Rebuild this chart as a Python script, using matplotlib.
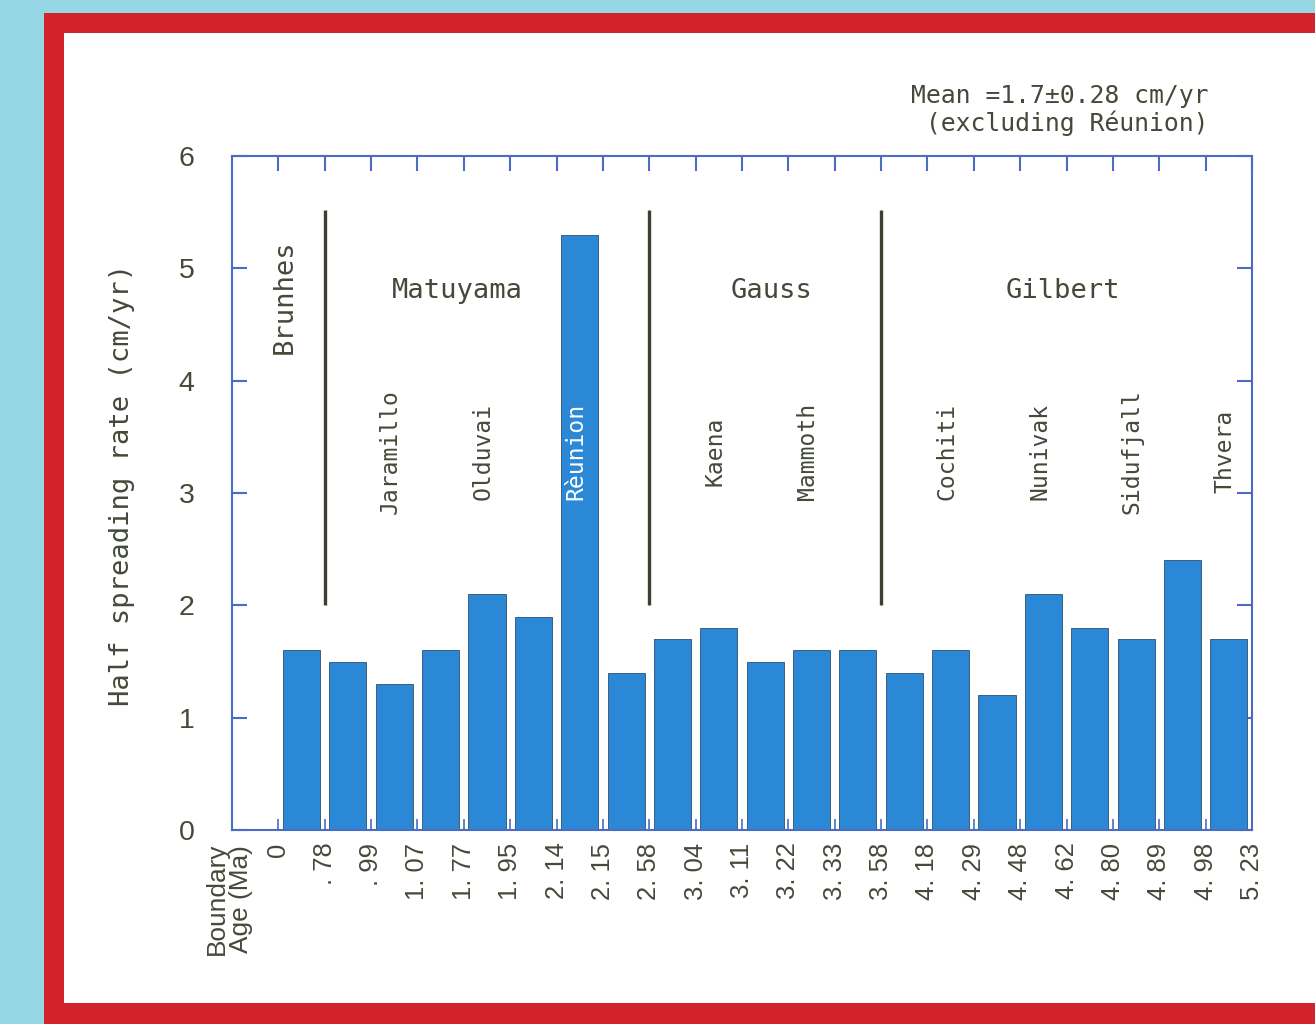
import matplotlib
matplotlib.use("Agg")
import matplotlib.pyplot as plt
import numpy as np
from matplotlib.patches import Rectangle
from matplotlib import font_manager

# boundary ages (Ma) between successive polarity intervals
boundary_ages = ['0', '. 78', '. 99', '1. 07', '1. 77', '1. 95', '2. 14', '2. 15', '2. 58',
                 '3. 04', '3. 11', '3. 22', '3. 33', '3. 58', '4. 18', '4. 29', '4. 48',
                 '4. 62', '4. 80', '4. 89', '4. 98', '5. 23']
# half spreading rate for each interval (cm/yr)
rates = [1.6, 1.5, 1.3, 1.6, 2.1, 1.9, 5.3, 1.4, 1.7, 1.8, 1.5,
         1.6, 1.6, 1.4, 1.6, 1.2, 2.1, 1.8, 1.7, 2.4, 1.7]

# chrons: name and centre (in interval units)
chrons = ['Matuyama', 'Gauss', 'Gilbert']
chron_x = [3.87, 10.63, 16.93]
chron_breaks = [1, 8, 13]

# subchrons: name and interval index
subchrons = ['Jaramillo', 'Olduvai', 'Rèunion', 'Kaena', 'Mammoth',
             'Cochiti', 'Nunivak', 'Sidufjall', 'Thvera']
subchron_idx = [2, 4, 6, 9, 11, 14, 16, 18, 20]

names = {f.name for f in font_manager.fontManager.ttflist}
if 'Liberation Sans Narrow' in names:
    num_font = 'Liberation Sans Narrow'
    k = 1.0
else:
    num_font = 'Liberation Sans'
    k = 0.82
mono = 'DejaVu Sans Mono'
txt = '#434a39'
blue = '#4a6cc2'
barcol = '#2a88d6'

fig = plt.figure(figsize=(13.15, 10.24), dpi=100)
fig.patch.set_facecolor('#96d7e5')
fig.add_artist(Rectangle((44/1315, -0.1), 1.2, 0.1 + 1011/1024, transform=fig.transFigure,
                         facecolor='#d2232a', edgecolor='none', zorder=-3))
fig.add_artist(Rectangle((64/1315, 21/1024), 1.2, 970/1024, transform=fig.transFigure,
                         facecolor='white', edgecolor='none', zorder=-2))

ax = fig.add_axes([232/1315, 194/1024, 1020/1315, 674/1024])
n = len(rates)
x = np.arange(n) + 0.5
ax.bar(x, rates, width=0.8, color=barcol, edgecolor='#3d5f80', linewidth=0.7, zorder=2)
ax.set_xlim(-1, n)
ax.set_ylim(0, 6)

for s in ax.spines.values():
    s.set_color(blue)
    s.set_linewidth(1.5)

ax.set_yticks(range(7))
ax.set_yticklabels([str(v) for v in range(7)], fontsize=25*k, family=num_font, color=txt)
ax.tick_params(axis='y', direction='in', length=11, width=1.5, color=blue, pad=27,
               right=True)
ax.set_xticks(np.arange(n + 1))
ax.set_xticklabels(boundary_ages, rotation=90, fontsize=22.5*k, family=num_font, color=txt)
ax.tick_params(axis='x', direction='in', length=8, width=1.2, color=blue, pad=9, top=True)
# longer ticks along the top edge
for t in ax.xaxis.get_major_ticks():
    t.tick2line.set_markersize(11)
    t.tick2line.set_markeredgewidth(1.5)

ax.set_ylabel('Half spreading rate (cm/yr)', fontsize=19.5, family=mono, color=txt)
ax.yaxis.set_label_coords(-0.095, 0.512)

fig.text(229/1315, (1024 - 955)/1024, 'Boundary\nAge (Ma)', rotation=90, ha='center', va='bottom',
         fontsize=23*k, family=num_font, color=txt, linespacing=1.05)

# chron boundaries
ax.vlines(chron_breaks, 2.0, 5.52, color='#3a4032', linewidth=2.4, zorder=3)
for name, cx in zip(chrons, chron_x):
    ax.text(cx, 4.8, name, ha='center', va='center', fontsize=19.5, family=mono, color=txt)
ax.text(0.14, 4.75, 'Brunhes', rotation=90, ha='center', va='center', fontsize=19.5,
        family=mono, color=txt)

for name, i in zip(subchrons, subchron_idx):
    c = 'white' if i == 6 else txt
    ax.text(i + 0.42, 3.37, name, rotation=90, ha='center', va='center', fontsize=16.6,
            family=mono, color=c, zorder=4)

ax.text(0.812, 1.068, 'Mean =1.7±0.28 cm/yr\n (excluding Réunion)', transform=ax.transAxes,
        ha='center', va='center', fontsize=17.8, family=mono, color=txt, linespacing=1.1)

fig.savefig('out.png', dpi=100, facecolor=fig.get_facecolor())
